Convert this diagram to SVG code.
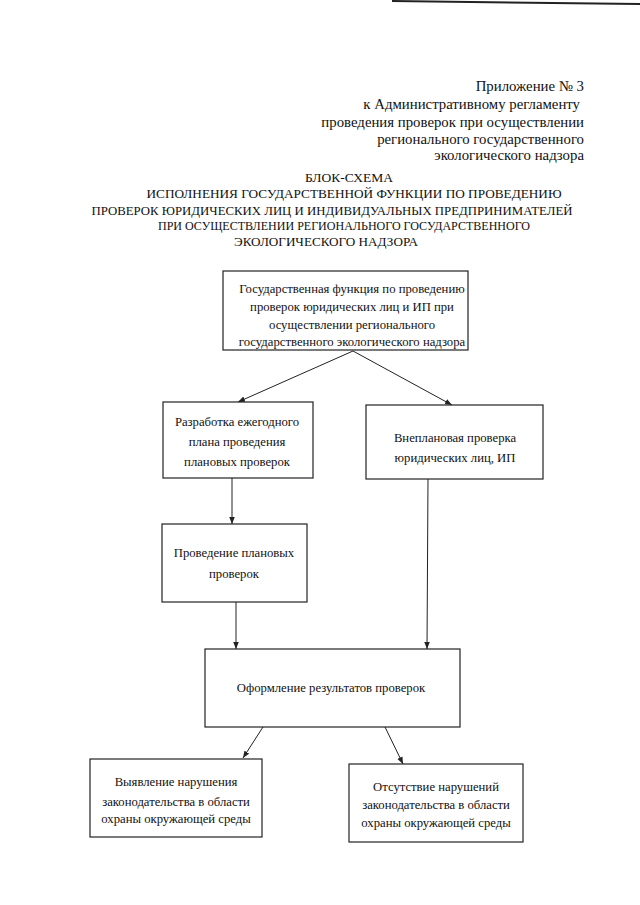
<svg xmlns="http://www.w3.org/2000/svg" width="640" height="905" viewBox="0 0 640 905">
<style>
text{font-family:"Liberation Serif","DejaVu Serif","Times New Roman",serif;fill:#111}
.h{font-size:14.8px;text-anchor:end}
.t{font-size:13.5px;text-anchor:middle}
.n{font-size:12.7px;text-anchor:middle}
.box{fill:#fff;stroke:#222;stroke-width:1.2}
.c{stroke:#222;stroke-width:1;fill:none}
</style>
<defs>
<marker id="ah" viewBox="0 0 10 10" refX="10" refY="5" markerWidth="7" markerHeight="7" orient="auto" markerUnits="userSpaceOnUse">
<path d="M0,1 L10,5 L0,9 z" fill="#222"/>
</marker>
</defs>
<rect width="640" height="905" fill="#fff"/>
<line x1="392" y1="1" x2="640" y2="4" stroke="#222" stroke-width="2"/>
<g id="header">
<text class="h" x="584" y="91">Приложение № 3</text>
<text class="h" x="580" y="109">к Административному регламенту</text>
<text class="h" x="584" y="127">проведения проверок при осуществлении</text>
<text class="h" x="584" y="144">регионального государственного</text>
<text class="h" x="584" y="160">экологического надзора</text>
</g>
<g id="title">
<text class="t" x="349" y="182">БЛОК-СХЕМА</text>
<text class="t" x="354" y="198" textLength="415" lengthAdjust="spacingAndGlyphs">ИСПОЛНЕНИЯ ГОСУДАРСТВЕННОЙ ФУНКЦИИ ПО ПРОВЕДЕНИЮ</text>
<text class="t" x="332" y="215" textLength="481" lengthAdjust="spacingAndGlyphs">ПРОВЕРОК ЮРИДИЧЕСКИХ ЛИЦ И ИНДИВИДУАЛЬНЫХ ПРЕДПРИНИМАТЕЛЕЙ</text>
<text class="t" x="344" y="230" textLength="372" lengthAdjust="spacingAndGlyphs">ПРИ ОСУЩЕСТВЛЕНИИ РЕГИОНАЛЬНОГО ГОСУДАРСТВЕННОГО</text>
<text class="t" x="326" y="246" textLength="184" lengthAdjust="spacingAndGlyphs">ЭКОЛОГИЧЕСКОГО НАДЗОРА</text>
</g>
<g id="connectors">
<line class="c" x1="353" y1="351" x2="238" y2="402" marker-end="url(#ah)"/>
<line class="c" x1="353" y1="351" x2="452" y2="405" marker-end="url(#ah)"/>
<line class="c" x1="232" y1="478" x2="232" y2="524" marker-end="url(#ah)"/>
<line class="c" x1="236" y1="602" x2="236" y2="649" marker-end="url(#ah)"/>
<line class="c" x1="428" y1="479" x2="427" y2="649" marker-end="url(#ah)"/>
<line class="c" x1="263" y1="727" x2="243" y2="758" marker-end="url(#ah)"/>
<line class="c" x1="385" y1="727" x2="403" y2="764" marker-end="url(#ah)"/>
</g>
<g id="n-function">
<rect class="box" x="223" y="271" width="245" height="79"/>
<text class="n" x="352" y="293">Государственная функция по проведению</text>
<text class="n" x="352" y="311">проверок юридических лиц и ИП при</text>
<text class="n" x="352" y="329">осуществлении регионального</text>
<text class="n" x="352" y="346">государственного экологического надзора</text>
</g>
<g id="n-plan">
<rect class="box" x="163" y="402" width="150" height="76"/>
<text class="n" x="237" y="426">Разработка ежегодного</text>
<text class="n" x="237" y="446">плана проведения</text>
<text class="n" x="237" y="466">плановых проверок</text>
</g>
<g id="n-unplanned">
<rect class="box" x="366" y="405" width="177" height="74"/>
<text class="n" x="455" y="442">Внеплановая проверка</text>
<text class="n" x="455" y="462">юридических лиц, ИП</text>
</g>
<g id="n-planned">
<rect class="box" x="162" y="524" width="145" height="78"/>
<text class="n" x="234" y="557">Проведение плановых</text>
<text class="n" x="234" y="578">проверок</text>
</g>
<g id="n-results">
<rect class="box" x="205" y="649" width="255" height="78"/>
<text class="n" x="331" y="692">Оформление результатов проверок</text>
</g>
<g id="n-violation">
<rect class="box" x="90" y="759" width="172" height="78"/>
<text class="n" x="176" y="786">Выявление нарушения</text>
<text class="n" x="176" y="806">законодательства в области</text>
<text class="n" x="176" y="823">охраны окружающей среды</text>
</g>
<g id="n-noviolation">
<rect class="box" x="349" y="764" width="174" height="78"/>
<text class="n" x="436" y="791">Отсутствие нарушений</text>
<text class="n" x="436" y="809">законодательства в области</text>
<text class="n" x="436" y="827">охраны окружающей среды</text>
</g>
</svg>
